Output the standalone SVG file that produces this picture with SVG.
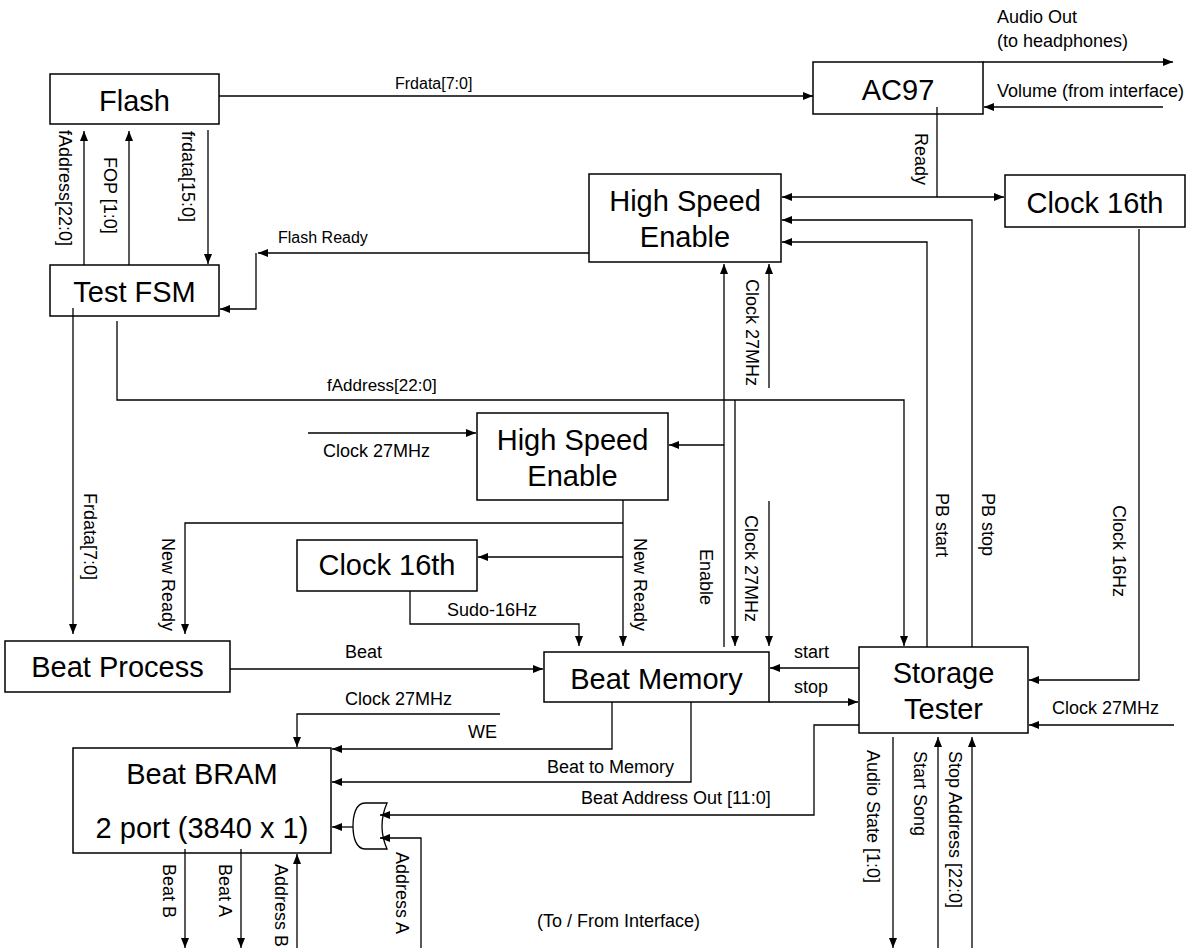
<svg xmlns="http://www.w3.org/2000/svg" width="1196" height="951" viewBox="0 0 1196 951">
<style>
.box{fill:#fff;stroke:#000;stroke-width:1.5}
.n{font-family:"Liberation Sans",Arial,sans-serif;font-size:29px;text-anchor:middle;fill:#000}
.l{font-family:"Liberation Sans",Arial,sans-serif;font-size:18px;fill:#000}
.s{font-size:16px}
.c{fill:none;stroke:#000;stroke-width:1.3}
.e{marker-end:url(#a)}
</style>
<defs>
<marker id="a" markerWidth="10" markerHeight="8" refX="10" refY="4" orient="auto" markerUnits="userSpaceOnUse"><path d="M0,0 L10,4 L0,8 z" fill="#000"/></marker>
</defs>
<rect width="1196" height="951" fill="#fff"/>
<g id="flash"><rect class="box" x="50" y="74" width="169" height="50"/><text class="n" x="134.5" y="111">Flash</text></g>
<g id="testfsm"><rect class="box" x="50" y="265" width="169" height="51"/><text class="n" x="134.5" y="302">Test FSM</text></g>
<g id="ac97"><rect class="box" x="813" y="62" width="170" height="52"/><text class="n" x="898" y="100">AC97</text></g>
<g id="clock16top"><rect class="box" x="1005" y="175" width="180" height="52"/><text class="n" x="1095" y="213">Clock 16th</text></g>
<g id="hse1"><rect class="box" x="589" y="174" width="192" height="88"/><text class="n" x="685" y="211">High Speed</text><text class="n" x="685" y="247">Enable</text></g>
<g id="hse2"><rect class="box" x="477" y="413" width="191" height="87"/><text class="n" x="572.5" y="450">High Speed</text><text class="n" x="572.5" y="486">Enable</text></g>
<g id="clock16mid"><rect class="box" x="297" y="540" width="180" height="51"/><text class="n" x="387" y="575">Clock 16th</text></g>
<g id="beatprocess"><rect class="box" x="5" y="641" width="225" height="51"/><text class="n" x="117.5" y="677">Beat Process</text></g>
<g id="beatmemory"><rect class="box" x="544" y="652" width="225" height="50"/><text class="n" x="656.5" y="689">Beat Memory</text></g>
<g id="storagetester"><rect class="box" x="859" y="647" width="169" height="86"/><text class="n" x="943.5" y="683">Storage</text><text class="n" x="943.5" y="719">Tester</text></g>
<g id="beatbram"><rect class="box" x="73" y="748" width="258" height="105"/><text class="n" x="202" y="784">Beat BRAM</text><text class="n" x="202" y="838">2 port (3840 x 1)</text></g>
<g id="orgate"><path class="box" d="M387,803 L365,803 C356,803 353,815 353,826 C353,837 356,849 365,849 L387,849 Q377,826 387,803 Z" style="stroke-width:1.3"/></g>
<g id="connectors">
<path class="c e" d="M219,96 H813"/>
<path class="c e" d="M983,62 H1173"/>
<path class="c e" d="M1163,107 H984"/>
<path class="c" d="M937,107 V197"/>
<path class="c e" d="M937,197 H782"/>
<path class="c e" d="M937,197 H1004"/>
<path class="c e" d="M972,647 V220 H782"/>
<path class="c e" d="M927,647 V242 H782"/>
<path class="c e" d="M1139,229 V680 H1029"/>
<path class="c e" d="M589,253 H258"/>
<path class="c e" d="M256,253 V309 H220"/>
<path class="c e" d="M84,265 V131"/>
<path class="c e" d="M129,265 V131"/>
<path class="c e" d="M208,130 V264"/>
<path class="c e" d="M73,308 V634"/>
<path class="c e" d="M117,321 V400 H904 V646"/>
<path class="c e" d="M724,647 V264"/>
<path class="c e" d="M724,445 H669"/>
<path class="c e" d="M769,388 V264"/>
<path class="c e" d="M735,400 V646"/>
<path class="c e" d="M769,501 V646"/>
<path class="c e" d="M308,433 H476"/>
<path class="c e" d="M623,500 V646"/>
<path class="c e" d="M623,523 H185 V634"/>
<path class="c e" d="M623,557 H478"/>
<path class="c e" d="M410,591 V624 H579 V646"/>
<path class="c e" d="M230,669 H543"/>
<path class="c e" d="M859,668 H770"/>
<path class="c e" d="M769,702 H858"/>
<path class="c e" d="M859,725 H814 V815 H380"/>
<path class="c e" d="M1174,725 H1029"/>
<path class="c e" d="M893,737 V948"/>
<path class="c e" d="M938,948 V737"/>
<path class="c e" d="M972,948 V737"/>
<path class="c e" d="M500,714 H297 V747"/>
<path class="c e" d="M612,702 V749 H332"/>
<path class="c e" d="M691,702 V782 H332"/>
<path class="c e" d="M353,827 H332"/>
<path class="c e" d="M421,948 V838 H380"/>
<path class="c e" d="M185,849 V948"/>
<path class="c e" d="M241,849 V948"/>
<path class="c e" d="M297,948 V854"/>
</g>
<g id="labels">
<text class="l s" x="395" y="89">Frdata[7:0]</text>
<text class="l" x="997" y="23">Audio Out</text>
<text class="l" x="997" y="47">(to headphones)</text>
<text class="l" x="997" y="97">Volume (from interface)</text>
<text class="l s" x="278" y="243">Flash Ready</text>
<text class="l" x="327" y="391" style="font-size:17px">fAddress[22:0]</text>
<text class="l" x="323" y="457">Clock 27MHz</text>
<text class="l" x="447" y="616">Sudo-16Hz</text>
<text class="l" x="345" y="658">Beat</text>
<text class="l" x="794" y="658">start</text>
<text class="l" x="794" y="693">stop</text>
<text class="l" x="345" y="705">Clock 27MHz</text>
<text class="l" x="468" y="738">WE</text>
<text class="l" x="547" y="773">Beat to Memory</text>
<text class="l" x="581" y="804">Beat Address Out [11:0]</text>
<text class="l" x="537" y="927">(To / From Interface)</text>
<text class="l" x="1052" y="714">Clock 27MHz</text>
<text class="l" transform="translate(59,130) rotate(90)">fAddress[22:0]</text>
<text class="l" transform="translate(104,157) rotate(90)">FOP [1:0]</text>
<text class="l" transform="translate(182,131) rotate(90)">frdata[15:0]</text>
<text class="l" transform="translate(915,133) rotate(90)">Ready</text>
<text class="l" transform="translate(746,279) rotate(90)">Clock 27MHz</text>
<text class="l" transform="translate(84,493) rotate(90)">Frdata[7:0]</text>
<text class="l" transform="translate(162,538) rotate(90)">New Ready</text>
<text class="l" transform="translate(634,538) rotate(90)">New Ready</text>
<text class="l" transform="translate(700,549) rotate(90)">Enable</text>
<text class="l" transform="translate(745,515) rotate(90)">Clock 27MHz</text>
<text class="l" transform="translate(936,493) rotate(90)">PB start</text>
<text class="l" transform="translate(982,493) rotate(90)">PB stop</text>
<text class="l" transform="translate(1113,505) rotate(90)">Clock 16Hz</text>
<text class="l" transform="translate(867,750) rotate(90)">Audio State [1:0]</text>
<text class="l" transform="translate(914,751) rotate(90)">Start Song</text>
<text class="l" transform="translate(949,751) rotate(90)">Stop Address [22:0]</text>
<text class="l" transform="translate(163,864) rotate(90)">Beat B</text>
<text class="l" transform="translate(219,864) rotate(90)">Beat A</text>
<text class="l" transform="translate(275,864) rotate(90)">Address B</text>
<text class="l" transform="translate(396,852) rotate(90)">Address A</text>
</g>
</svg>
